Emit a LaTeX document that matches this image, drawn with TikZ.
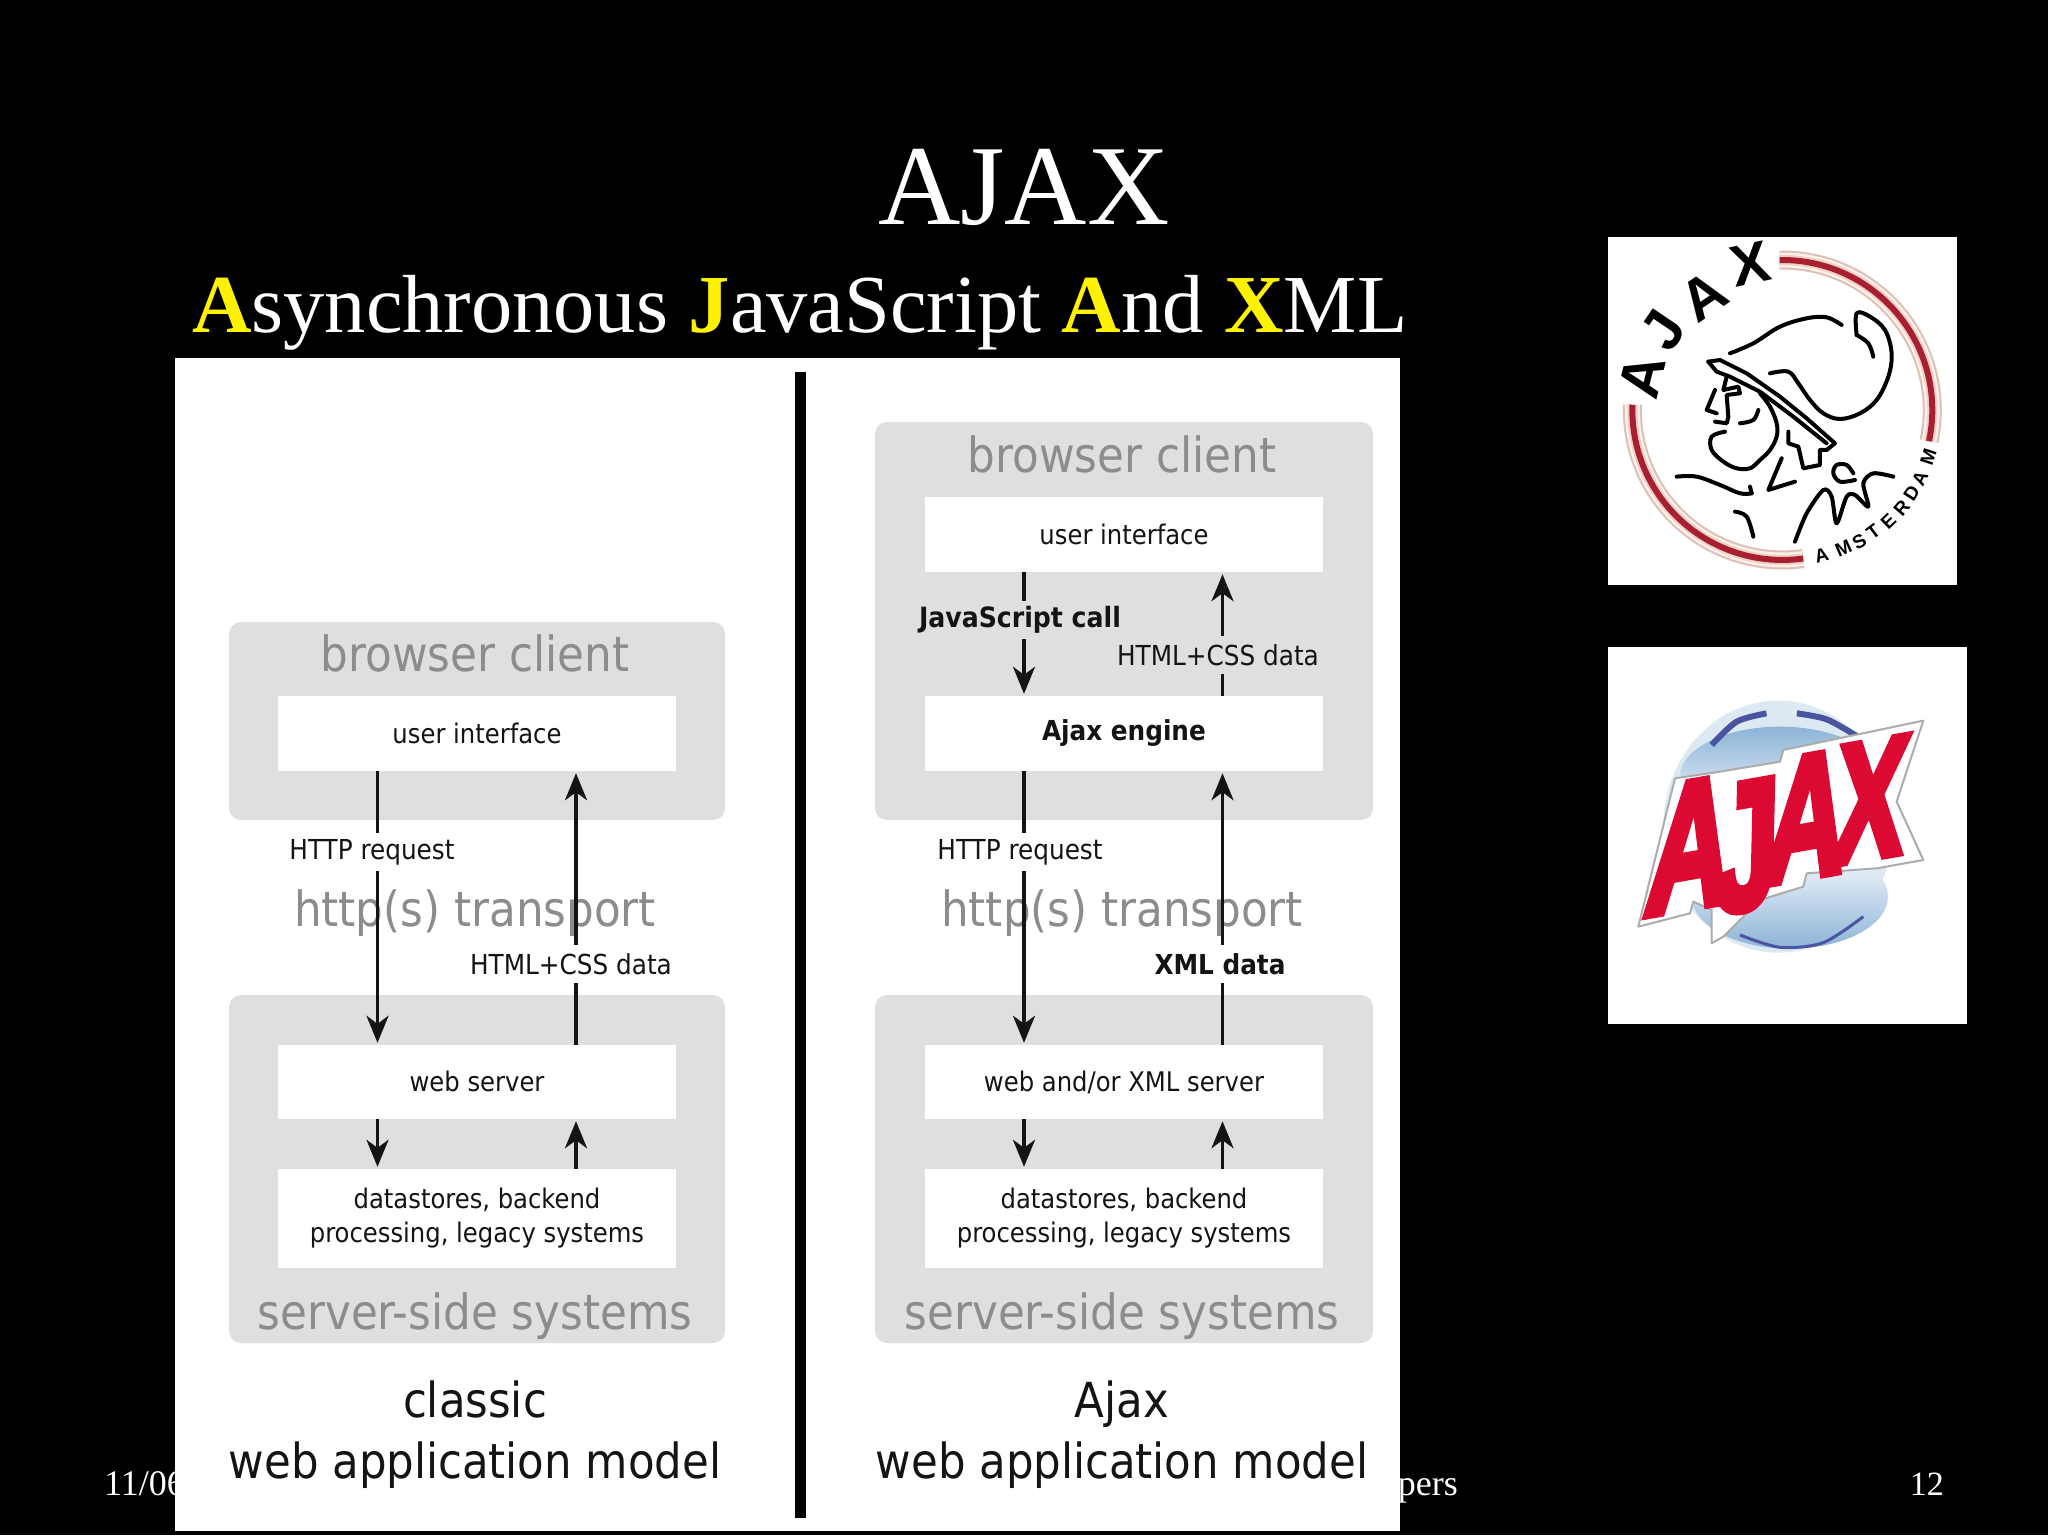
\documentclass[tikz,border=0pt]{standalone}
\usepackage{fontspec}
\usetikzlibrary{arrows.meta,calc}
\setmainfont{Liberation Serif}
\newfontfamily\diafont{DejaVu Sans Condensed}
\newfontfamily\logofont{Liberation Sans}[BoldFeatures={FakeBold=5}]
\newfontfamily\ringfont{Liberation Sans}
\definecolor{grayband}{HTML}{DFDFE1}
\definecolor{graytext}{HTML}{8C8C8E}
\definecolor{inktext}{HTML}{141414}
\definecolor{ajaxred}{HTML}{DC0A32}
\definecolor{swooshpale}{HTML}{DCE9F3}
\definecolor{swooshmid}{HTML}{8DB4D8}
\definecolor{swooshdark}{HTML}{4A559F}
\newcommand{\fsz}[1]{\fontsize{#1}{#1}\selectfont}
\newcommand{\ringletter}[4]{\node[font=\ringfont\bfseries\fsz{#4},rotate=#3,text=black,inner sep=0pt] at #1 {#2};}
\newcommand{\logoletter}[6]{\begin{scope}[shift={#1},rotate=#3,xslant=#4,xscale=#5]\node[transform shape,inner sep=0pt,text=ajaxred,font=\logofont\bfseries\fsz{#6}] {#2};\end{scope}}
\tikzset{
  bandbox/.style={fill=grayband,rounded corners=12pt,inner sep=0pt,draw=none},
  whitebox/.style={fill=white,inner sep=0pt,draw=none,minimum width=398pt,text=inktext,font=\diafont\fsz{27},align=center},
  biglabel/.style={text=graytext,font=\diafont\fsz{48.5},inner sep=0pt},
  caption/.style={text=inktext,font=\diafont\fsz{48.3},inner sep=0pt,anchor=base},
  linklabel/.style={text=inktext,font=\diafont\fsz{27.5},inner ysep=0pt,inner xsep=1pt,minimum height=38pt},
  flow/.style={draw=inktext,line width=3.7pt,-{Stealth[length=27pt,width=22pt,inset=8pt]},shorten >=2pt},
  ringline/.style={line width=4pt,line cap=round,line join=round,black},
}
\begin{document}
\begin{tikzpicture}[x=1pt,y=-1pt]
\useasboundingbox (0,0) rectangle (2048,1535);
\fill[black] (0,0) rectangle (2048,1535);
% slide text
\node[text=white,font=\fsz{114},inner sep=0pt] (title) at (1024,187) {AJAX};
\node[anchor=base west,text=white,font=\fsz{82.4},inner sep=0pt] (subtitle) at (192,332) {\textcolor{yellow}{\textbf{A}}synchronous \textcolor{yellow}{\textbf{J}}avaScript \textcolor{yellow}{\textbf{A}}nd \textcolor{yellow}{\textbf{X}}ML};
\node[anchor=base west,text=white,font=\fsz{36},inner sep=0pt] (date) at (104,1495) {11/06};
\node[anchor=base east,text=white,font=\fsz{36},inner sep=0pt] (footer) at (1458,1495) {pers};
\node[anchor=base east,text=white,font=\fsz{34},inner sep=0pt] (page) at (1944,1495) {12};
% diagram panel
\fill[white] (175,358) rectangle (1400,1531);
\fill[black] (794.5,372) rectangle (805.5,1518);
% bands
\node[bandbox,minimum width=496pt,minimum height=198pt] (lclient) at (477,721) {};
\node[bandbox,minimum width=496pt,minimum height=348pt] (lserver) at (477,1169) {};
\node[bandbox,minimum width=498pt,minimum height=398pt] (rclient) at (1124,621) {};
\node[bandbox,minimum width=498pt,minimum height=348pt] (rserver) at (1124,1169) {};
% band titles
\node[biglabel] at (475,653) {browser client};
\node[biglabel] at (475,913) {http(s) transport};
\node[biglabel] at (475,1316) {server-side systems};
\node[biglabel] at (1122,454) {browser client};
\node[biglabel] at (1122,913) {http(s) transport};
\node[biglabel] at (1122,1316) {server-side systems};
% boxes
\node[whitebox,minimum height=75pt] (lui) at (477,733.5) {\raisebox{1pt}{user interface}};
\node[whitebox,minimum height=74pt] (lweb) at (477,1082) {\raisebox{1.5pt}{web server}};
\node[whitebox,minimum height=99pt] (ldata) at (477,1218.5) {\raisebox{-1pt}{datastores, backend}\\[7pt]\raisebox{-1pt}{processing, legacy systems}};
\node[whitebox,minimum height=75pt] (rui) at (1124,534.5) {\raisebox{1pt}{user interface}};
\node[whitebox,minimum height=75pt,font=\diafont\bfseries\fsz{27.5}] (rengine) at (1124,733.5) {\raisebox{-2pt}{Ajax engine}};
\node[whitebox,minimum height=74pt] (rweb) at (1124,1082) {\raisebox{1.5pt}{web and/or XML server}};
\node[whitebox,minimum height=99pt] (rdata) at (1124,1218.5) {\raisebox{-1pt}{datastores, backend}\\[7pt]\raisebox{-1pt}{processing, legacy systems}};
% connector columns
\coordinate (ldown) at (377.5,0);
\coordinate (lup) at (576,0);
\coordinate (rdown) at (1024,0);
\coordinate (rup) at (1222.5,0);
% connectors
\draw[flow] (lui.south -| ldown) -- (lweb.north -| ldown);
\draw[flow] (lweb.north -| lup) -- (lui.south -| lup);
\draw[flow] (lweb.south -| ldown) -- (ldata.north -| ldown);
\draw[flow] (ldata.north -| lup) -- (lweb.south -| lup);
\draw[flow] (rui.south -| rdown) -- (rengine.north -| rdown);
\draw[flow] (rengine.north -| rup) -- (rui.south -| rup);
\draw[flow] (rengine.south -| rdown) -- (rweb.north -| rdown);
\draw[flow] (rweb.north -| rup) -- (rengine.south -| rup);
\draw[flow] (rweb.south -| rdown) -- (rdata.north -| rdown);
\draw[flow] (rdata.north -| rup) -- (rweb.south -| rup);
% connector labels
\node[linklabel,fill=white] at (372,852) {HTTP request};
\node[linklabel,fill=white] at (571,964) {HTML+CSS data};
\node[linklabel,fill=grayband,font=\diafont\bfseries\fsz{28}] at (1020,620) {JavaScript call};
\node[linklabel,fill=grayband] at (1218,655) {HTML+CSS data};
\node[linklabel,fill=white] at (1020,852) {HTTP request};
\node[linklabel,fill=white,font=\diafont\bfseries\fsz{27.5}] at (1220,964) {XML data};
% captions
\node[caption] at (475,1417) {classic};
\node[caption] at (475,1478) {web application model};
\node[caption] at (1122,1417) {Ajax};
\node[caption] at (1122,1478) {web application model};
% logo one
\fill[white] (1608,237) rectangle (1957,585);
\begin{scope}[shift={(1580,220)},x=.3333pt,y=-.3333pt]
\foreach \w/\c in {19/DDBFB4,15/FBEFE9,10/EFCFC8,6/A82030}{
  \definecolor{ringcol}{HTML}{\c}
  \draw[ringcol,line width=\w pt] plot[domain=-91:12,samples=50] ({607+450*cos(\x)},{570+450*sin(\x)});
  \draw[ringcol,line width=\w pt] plot[domain=82:182,samples=50] ({607+450*cos(\x)},{570+450*sin(\x)});
}
\ringletter{(186,468)}{A}{76}{58}
\ringletter{(250,330)}{J}{56}{58}
\ringletter{(370,228)}{A}{34}{58}
\ringletter{(512,132)}{X}{12}{58}
\ringletter{(725,1005)}{A}{15}{19}
\ringletter{(790,985)}{M}{24}{19}
\ringletter{(838,965)}{S}{30}{19}
\ringletter{(880,935)}{T}{37}{19}
\ringletter{(925,905)}{E}{44}{19}
\ringletter{(965,865)}{R}{50}{19}
\ringletter{(995,820)}{D}{57}{19}
\ringletter{(1020,775)}{A}{64}{19}
\ringletter{(1045,710)}{M}{72}{19}
\draw[ringline] plot[smooth,tension=.6] coordinates {(450,400) (520,370) (600,320) (680,295) (740,292) (785,315)};
\draw[ringline] plot[smooth,tension=.6] coordinates {(880,410) (865,370) (830,345)};
\draw[ringline] plot[smooth,tension=.6] coordinates {(830,345) (830,280) (870,290) (915,330) (935,400) (925,470) (890,540) (840,580) (780,597) (730,580) (690,540) (655,490) (625,455) (570,460)};
\draw[ringline] (385,425) -- (420,420) -- (500,460) -- (600,530) -- (680,595) -- (765,670) -- (740,690) -- (720,690) -- (720,735) -- (670,745) -- (655,680) -- (625,670) -- (625,635);
\draw[ringline] (385,425) -- (410,455) -- (450,470) -- (540,515) -- (640,590) -- (740,670);
\draw[ringline] (440,470) -- (430,510) -- (475,500) -- (480,520) -- (440,525) -- (445,590) -- (440,610) -- (405,605);
\draw[ringline] (405,510) -- (380,570) -- (410,580);
\draw[ringline] plot[smooth,tension=.6] coordinates {(540,520) (570,560) (590,610) (590,650) (570,690) (540,720) (510,745) (470,745) (430,725) (395,690) (395,650) (435,635)};
\draw[ringline] plot[smooth,tension=.6] coordinates {(480,610) (520,600) (535,570)};
\draw[ringline] plot[smooth,tension=.6] coordinates {(290,770) (350,770) (420,795) (480,820) (515,820)};
\draw[ringline] (515,820) -- (510,800);
\draw[ringline] (605,715) -- (565,810) -- (645,785);
\draw[ringline] plot[smooth,tension=.6] coordinates {(465,875) (500,890) (520,950)};
\draw[ringline] plot[smooth,tension=.5] coordinates {(645,965) (680,880) (730,810) (755,830) (770,910) (800,830) (825,825) (865,860) (850,790) (880,760) (940,770)};
\draw[ringline] plot[smooth,tension=.6] coordinates {(820,760) (800,735) (770,735) (760,760) (780,785) (825,780)};
\end{scope}
% logo two
\fill[white] (1608,647) rectangle (1967,1024);
\begin{scope}[shift={(1580,630)},x=.3333pt,y=-.3333pt]
\fill[swooshpale] (595,590) ellipse [x radius=115pt,y radius=126pt];
\shade[top color=swooshmid,bottom color=white] (600,440) ellipse [x radius=100pt,y radius=50pt];
\shade[top color=white,bottom color=swooshmid] (630,800) ellipse [x radius=98pt,y radius=52pt];
\draw[swooshdark,line width=6pt] plot[smooth] coordinates {(395,345) (470,275) (560,250)};
\draw[swooshdark,line width=6pt] plot[smooth] coordinates {(650,250) (740,268) (830,318)};
\draw[white!70!swooshmid,line width=8pt] plot[smooth] coordinates {(560,248) (600,245) (650,248)};
\draw[swooshdark,line width=3pt] plot[smooth] coordinates {(480,915) (600,952) (730,938) (850,860)};
\draw[gray!65,fill=white,line width=2pt,line join=round] (285,445) -- (420,425) -- (600,395) -- (610,360) -- (1030,272) -- (950,515) -- (1030,690) -- (890,715) -- (680,730) -- (670,770) -- (540,810) -- (430,920) -- (395,940) -- (395,840) -- (340,815) -- (330,850) -- (175,890) -- cycle;
\logoletter{(333,645)}{A}{10}{.28}{.66}{178}
\logoletter{(500,650)}{J}{10}{.20}{.66}{178}
\logoletter{(682,560)}{A}{10}{.28}{.66}{172}
\logoletter{(872,510)}{X}{10}{.28}{.66}{165}
\end{scope}
\end{tikzpicture}
\end{document}
